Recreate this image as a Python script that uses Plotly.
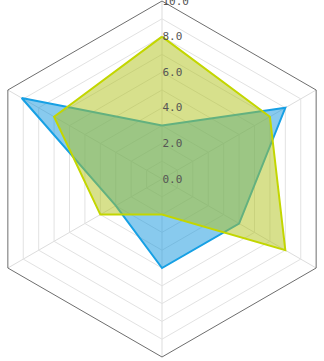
import plotly.graph_objects as go

# indicators (clockwise from top is not used; order follows counterclockwise from top)
indicators = ["A", "B", "C", "D", "E", "F"]
series_blue = [3.0, 9.1, 3.0, 5.0, 5.0, 8.0]
series_yellow = [8.0, 7.0, 4.0, 2.0, 8.0, 7.0]
radial_ticks = [0, 1, 2, 3, 4, 5, 6, 7, 8, 9, 10]
radial_tick_text = ["0.0", "", "2.0", "", "4.0", "", "6.0", "", "8.0", "", "10.0"]

fig = go.Figure()

def closed(v):
    return list(v) + [v[0]]

fig.add_trace(go.Scatterpolar(
    r=closed(series_blue), theta=closed(indicators),
    mode="lines", fill="toself",
    line=dict(color="#17a0e4", width=2),
    fillcolor="rgba(17,150,222,0.5)",
    showlegend=False, hoverinfo="skip",
))
fig.add_trace(go.Scatterpolar(
    r=closed(series_yellow), theta=closed(indicators),
    mode="lines", fill="toself",
    line=dict(color="#c3d600", width=2),
    fillcolor="rgba(175,193,25,0.5)",
    showlegend=False, hoverinfo="skip",
))

fig.update_layout(
    width=356, height=361,
    margin=dict(l=0, r=0, t=0, b=3),
    paper_bgcolor="white",
    plot_bgcolor="white",
    polar=dict(
        bgcolor="white",
        gridshape="linear",
        domain=dict(x=[0, 1], y=[0, 1]),
        angularaxis=dict(
            type="category",
            categoryarray=indicators,
            rotation=90,
            direction="counterclockwise",
            showticklabels=False,
            ticks="",
            showgrid=True,
            gridcolor="#dddddd",
            gridwidth=1,
            showline=True,
            linecolor="#6e6e6e",
            linewidth=1,
        ),
        radialaxis=dict(
            range=[0, 10],
            angle=90,
            tickangle=90,
            side="clockwise",
            tickmode="array",
            tickvals=radial_ticks,
            ticktext=radial_tick_text,
            ticks="",
            showline=False,
            showgrid=True,
            gridcolor="#e2e2e2",
            gridwidth=1,
            tickfont=dict(family="DejaVu Sans Mono", size=11, color="#555555"),
        ),
    ),
)

post = (
    "document.body.style.margin='0';"
    "document.body.style.overflow='hidden';"
    "document.documentElement.style.overflow='hidden';"
    "var d=document.getElementById('{plot_id}');"
    "d.style.marginLeft='-16px';"
)
fig.write_html("out.html", post_script=post)
